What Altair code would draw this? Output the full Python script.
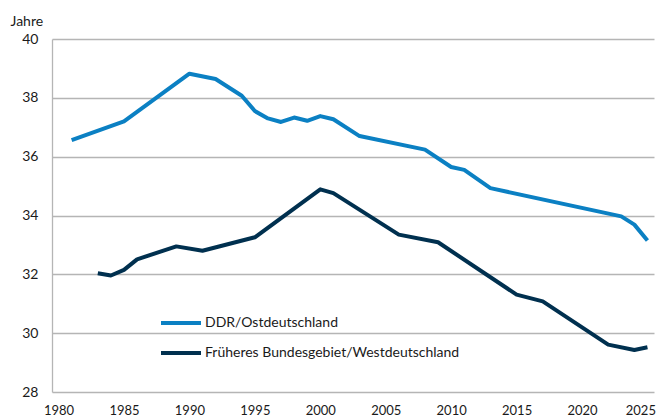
import altair as alt
import pandas as pd

# DDR/Ostdeutschland
east_years = [1981, 1985, 1990, 1992, 1994, 1995, 1996, 1997, 1998, 1999, 2000,
              2001, 2003, 2008, 2010, 2011, 2013, 2023, 2024, 2025]
east_values = [36.56, 37.20, 38.82, 38.64, 38.07, 37.55, 37.30, 37.18, 37.33, 37.22,
               37.38, 37.27, 36.70, 36.24, 35.65, 35.55, 34.93, 33.97, 33.69, 33.15]

# Früheres Bundesgebiet/Westdeutschland
west_years = [1983, 1984, 1985, 1986, 1989, 1991, 1995, 2000, 2001, 2006, 2009,
              2015, 2017, 2022, 2024, 2025]
west_values = [32.04, 31.96, 32.15, 32.51, 32.95, 32.80, 33.26, 34.89, 34.76, 33.35,
               33.09, 31.31, 31.08, 29.61, 29.43, 29.52]

series_names = ["DDR/Ostdeutschland", "Früheres Bundesgebiet/Westdeutschland"]
series_colors = ["#0b80c3", "#00304f"]
x_ticks = [1980, 1985, 1990, 1995, 2000, 2005, 2010, 2015, 2020, 2025]
y_ticks = [28, 30, 32, 34, 36, 38, 40]

df = pd.concat([
    pd.DataFrame({"Jahr": east_years, "Wert": east_values, "Serie": series_names[0]}),
    pd.DataFrame({"Jahr": west_years, "Wert": west_values, "Serie": series_names[1]}),
])

FONT = "Lato"
TXT = "#1a1a1a"

chart = alt.Chart(df).mark_line(strokeWidth=4, strokeCap="butt", strokeJoin="round").encode(
    x=alt.X("Jahr:Q",
            scale=alt.Scale(domain=[1979.5, 2025.5], nice=False, zero=False),
            axis=alt.Axis(values=x_ticks, format="d", title=None, grid=False,
                          ticks=False, domain=False, labelFontSize=13,
                          labelPadding=12, labelColor=TXT, labelFont=FONT,
                          labelAlign={"condition": {"test": "datum.value == 2025",
                                                    "value": "right"},
                                      "value": "center"},
                          labelOffset={"condition": {"test": "datum.value == 2025",
                                                     "value": 8},
                                       "value": 0})),
    y=alt.Y("Wert:Q",
            scale=alt.Scale(domain=[28, 40], nice=False, zero=False),
            axis=alt.Axis(values=y_ticks, title="Jahre", grid=True, gridColor="#b5b5b5",
                          gridWidth=1.3, ticks=False, domain=True, domainColor="#b5b5b5",
                          domainWidth=1.3, labelFontSize=14, labelPadding=14,
                          labelColor=TXT, labelFont=FONT, titleAngle=0,
                          titleAlign="left", titleBaseline="alphabetic", titleX=-42,
                          titleY=-14, titleFontSize=14, titleFontWeight="normal",
                          titleColor=TXT, titleFont=FONT)),
    color=alt.Color("Serie:N",
                    scale=alt.Scale(domain=series_names, range=series_colors),
                    legend=alt.Legend(title=None, orient="none", legendX=107, legendY=262,
                                      symbolType="stroke", symbolSize=1600,
                                      symbolStrokeWidth=4, labelFontSize=14,
                                      labelFont=FONT, labelColor=TXT, labelOffset=2,
                                      rowPadding=-6, padding=0, labelLimit=400)),
).properties(
    width=602, height=353,
    padding={"left": 44, "top": 31, "right": 2, "bottom": 26},
    autosize=alt.AutoSizeParams(type="none"),
).configure_view(stroke=None)

chart.save("out.html", embed_options={"renderer": "svg", "actions": False})
